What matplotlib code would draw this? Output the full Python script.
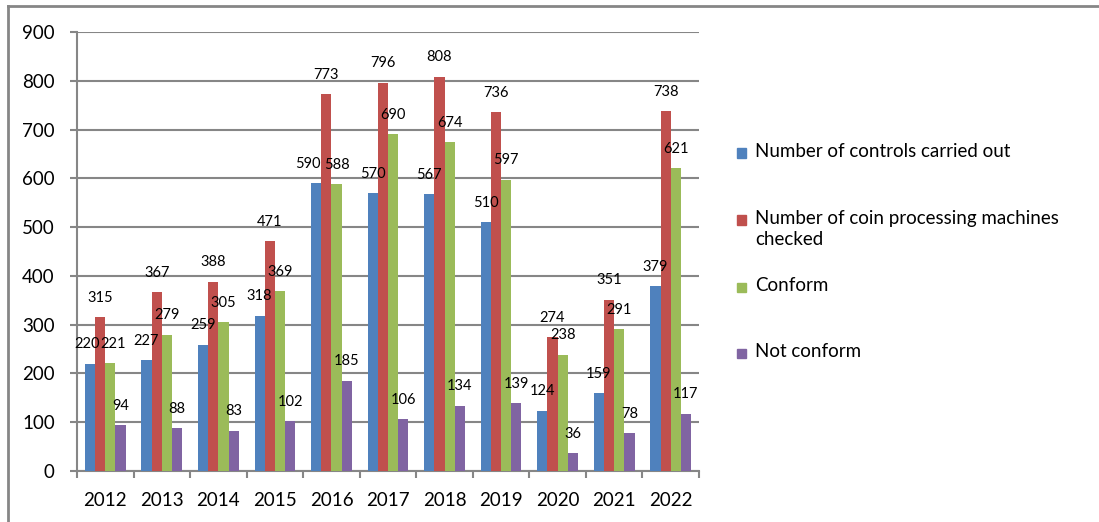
import matplotlib
matplotlib.use("Agg")
import matplotlib.pyplot as plt
from matplotlib.patches import Rectangle
from matplotlib.lines import Line2D
import numpy as np

plt.rcParams['font.family'] = ['Lato', 'DejaVu Sans']

years = ["2012", "2013", "2014", "2015", "2016", "2017", "2018", "2019", "2020", "2021", "2022"]
controls = [220, 227, 259, 318, 590, 570, 567, 510, 124, 159, 379]
machines = [315, 367, 388, 471, 773, 796, 808, 736, 274, 351, 738]
conform = [221, 279, 305, 369, 588, 690, 674, 597, 238, 291, 621]
not_conform = [94, 88, 83, 102, 185, 106, 134, 139, 36, 78, 117]

series_names = ["Number of controls carried out",
                "Number of coin processing machines\nchecked",
                "Conform",
                "Not conform"]
colors = ["#4F81BD", "#C0504D", "#9BBB59", "#8064A2"]
series = [controls, machines, conform, not_conform]

W, H = 1099, 522
fig = plt.figure(figsize=(W / 100, H / 100), dpi=100)
ax = fig.add_axes([77 / W, 1 - 471 / H, (699 - 77) / W, (471 - 32) / H])

grid_c = "#868686"
x = np.arange(len(years))
bw = 0.18
start = -0.5 + 0.14
# small manual nudges (series index, year index) -> x offset in points
nudge = {(0, 4): -6, (0, 0): -2, (2, 0): 2}
for i, (vals, c) in enumerate(zip(series, colors)):
    pos = x + start + bw * (i + 0.5)
    ax.bar(pos, vals, width=bw, color=c, zorder=3)
    for j, (p, v) in enumerate(zip(pos, vals)):
        dx = nudge.get((i, j), 0)
        ax.annotate(str(v), (p, v), xytext=(dx, 14), textcoords="offset points",
                    ha="center", va="center", fontsize=10.5, color="black", zorder=4)

ax.set_xlim(-0.5, len(years) - 0.5)
ax.set_ylim(0, 900)
ax.set_yticks(range(0, 901, 100))
ax.yaxis.grid(True, color=grid_c, linewidth=1.5, zorder=0)
ax.set_xticks(x)
ax.set_xticklabels(years, fontsize=13.5)
ax.set_xticks(np.arange(-0.5, len(years)), minor=True)
ax.tick_params(axis="x", which="major", length=0, pad=15)
ax.tick_params(axis="x", which="minor", length=5, width=1.5, color=grid_c)
ax.tick_params(axis="y", length=5, width=1.5, color=grid_c, labelsize=13.5, pad=11)
for s in ["top", "right"]:
    ax.spines[s].set_visible(False)
for s in ["left", "bottom"]:
    ax.spines[s].set_color(grid_c)
    ax.spines[s].set_linewidth(1.5)

# legend drawn at Excel-like positions
leg_y = [153, 220, 287, 353]
for name, c, y in zip(series_names, colors, leg_y):
    fig.patches.append(Rectangle((737 / W, 1 - (y + 4.5) / H), 9 / W, 9 / H,
                                 transform=fig.transFigure, color=c))
    fig.text(755 / W, 1 - (y - 10) / H, name, fontsize=13.5, va="top", ha="left",
             linespacing=1.3)

# outer chart border
fig.add_artist(Line2D([8 / W, 1], [1 - 6 / H, 1 - 6 / H], color=grid_c, linewidth=2,
                      transform=fig.transFigure))
fig.add_artist(Line2D([8 / W, 8 / W], [0, 1 - 6 / H], color=grid_c, linewidth=2,
                      transform=fig.transFigure))

fig.savefig("out.png", dpi=100)
